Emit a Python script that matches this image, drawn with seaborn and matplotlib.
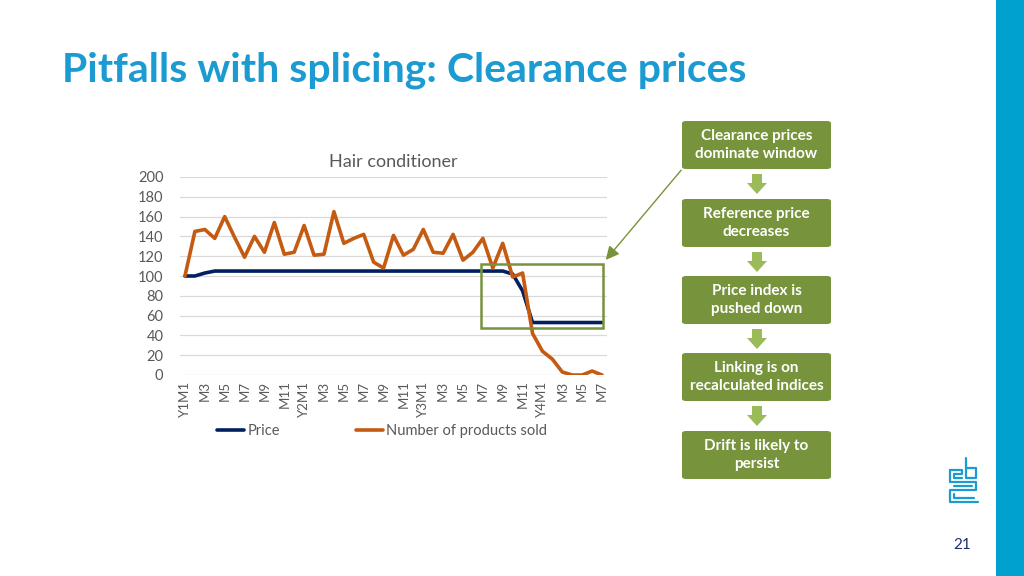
import matplotlib
matplotlib.use("Agg")
import matplotlib.pyplot as plt
import seaborn as sns
import pandas as pd
import numpy as np
from matplotlib.patches import Rectangle, FancyBboxPatch, Polygon, FancyArrowPatch
from matplotlib.lines import Line2D

# ---------------- data ----------------
years = [1, 2, 3, 4]
months_per_year = [12, 12, 12, 7]
period_labels = []
for y, n in zip(years, months_per_year):
    for m in range(1, n + 1):
        period_labels.append(f"Y{y}M{m}")

tick_labels = [p if p.endswith("M1") and len(p) == 4 else "M" + p.split("M")[1]
               for p in period_labels]

price = [100, 100, 103] + [105] * 30 + [102, 85] + [53] * 8
products_sold = [100, 145, 147, 138, 160, 139, 119, 140, 124, 154, 122, 124, 151, 121, 122,
                 165, 133, 138, 142, 114, 108, 141, 121, 127, 147, 124, 123, 142, 116, 124,
                 138, 108, 133, 99, 103, 42, 24, 16, 3, 0, 0, 4, 0]

series_names = ["Price", "Number of products sold"]
series_colors = ["#002060", "#C55A11"]

chart_title = "Hair conditioner"
slide_title = "Pitfalls with splicing: Clearance prices"
flow_steps = ["Clearance prices\ndominate window", "Reference price\ndecreases",
              "Price index is\npushed down", "Linking is on\nrecalculated indices",
              "Drift is likely to\npersist"]
page_number = "21"

# ---------------- build ----------------
df = pd.DataFrame({
    "period": list(range(len(period_labels))) * 2,
    "value": price + products_sold,
    "series": [series_names[0]] * len(price) + [series_names[1]] * len(products_sold),
})

sns.set_theme(style="white")
plt.rcParams["font.family"] = ["Lato", "DejaVu Sans"]

W, H = 1024, 576
fig = plt.figure(figsize=(W / 100, H / 100), dpi=100)

def fx(x):
    return x / W

def fy(y):
    return 1 - y / H

ax_left, ax_right, ax_top, ax_bottom = 180, 607, 177, 375
ax = fig.add_axes([fx(ax_left), fy(ax_bottom), fx(ax_right - ax_left), (ax_bottom - ax_top) / H])

sns.lineplot(data=df, x="period", y="value", hue="series", palette=series_colors,
             hue_order=series_names, linewidth=2.6, ax=ax, legend=False, sort=False)

ax.set_xlim(-0.5, len(period_labels) - 0.5)
ax.set_ylim(0, 200)
ax.set_yticks(range(0, 201, 20))
ax.yaxis.grid(True, color="#D9D9D9", linewidth=0.9)
ax.xaxis.grid(False)
ax.set_axisbelow(True)
for s in ax.spines.values():
    s.set_visible(False)
ax.set_xticks(range(0, len(period_labels), 2))
ax.set_xticklabels(tick_labels[::2], rotation=90, fontsize=9.5, color="#595959")
ax.tick_params(axis="y", labelsize=10.5, labelcolor="#595959", length=0, pad=12)
ax.tick_params(axis="x", length=0, pad=4)
ax.set_xlabel("")
ax.set_ylabel("")
ax.set_title(chart_title, fontsize=13, color="#595959", pad=7)

# highlight box
ax.add_patch(Rectangle((29.8, 47.5), 42.1 - 29.8, 112 - 47.5, fill=False,
                       edgecolor="#77933C", linewidth=1.8, clip_on=False, zorder=5))

# legend
handles = [Line2D([0], [0], color=c, lw=2.6) for c in series_colors]
fig.legend(handles, series_names, loc="center", bbox_to_anchor=(fx(382), fy(431)), ncol=2,
           frameon=False, fontsize=10.5, handlelength=1.9, handletextpad=0.2,
           columnspacing=5.2, labelcolor="#595959")

# slide title
fig.text(fx(62), fy(70), slide_title, fontsize=29.5, color="#1B9BD1", weight="bold", va="center")

# right bar
fig.add_artist(Rectangle((fx(996), 0), fx(28), 1, transform=fig.transFigure,
                         facecolor="#00A1CD", edgecolor="none"))
fig.text(fx(962), fy(545), page_number, fontsize=11, color="#1F2F6E", ha="center", va="center")

# flow boxes
box_x0, box_x1 = 682, 831
box_tops = [121, 199, 276, 353, 431]
box_h = 48
for top, txt in zip(box_tops, flow_steps):
    fig.add_artist(FancyBboxPatch((fx(box_x0), fy(top + box_h)), fx(box_x1 - box_x0), box_h / H,
                                  boxstyle="round,pad=0,rounding_size=0.004",
                                  transform=fig.transFigure, facecolor="#77933C", edgecolor="none"))
    fig.text(fx((box_x0 + box_x1) / 2), fy(top + box_h / 2), txt, color="white", weight="bold",
             fontsize=11, ha="center", va="center", linespacing=1.35)

# down arrows
for top in box_tops[:-1]:
    y0 = top + box_h + 5
    y1 = y0 + 20
    cx = 757
    pts = [(cx - 5, y0), (cx + 5, y0), (cx + 5, y0 + 9), (cx + 10, y0 + 9), (cx, y1),
           (cx - 10, y0 + 9), (cx - 5, y0 + 9)]
    fig.add_artist(Polygon([(fx(a), fy(b)) for a, b in pts], closed=True, transform=fig.transFigure,
                           facecolor="#9BBB59", edgecolor="none"))

# connector arrow from highlight box to first flow box
fig.add_artist(FancyArrowPatch((fx(683), fy(168)), (fx(604), fy(262)), transform=fig.transFigure,
                               arrowstyle="-|>,head_length=8,head_width=4", color="#77933C",
                               linewidth=1.0, mutation_scale=1))

# simple logo
lc = "#1B9BD1"
logo_lines = [
    [(950, 470), (962, 470), (962, 474), (954, 474), (954, 478), (962, 478)],
    [(966, 458), (966, 478), (976, 478), (976, 468), (966, 468)],
    [(950, 470), (950, 482), (976, 482), (976, 490), (950, 490), (950, 502), (978, 502)],
    [(954, 486), (972, 486)],
    [(954, 494), (954, 498), (974, 498)],
]
for ln in logo_lines:
    xs = [fx(a) for a, b in ln]
    ys = [fy(b) for a, b in ln]
    fig.add_artist(Line2D(xs, ys, color=lc, linewidth=1.6, transform=fig.transFigure))

fig.savefig("out.png", dpi=100)
